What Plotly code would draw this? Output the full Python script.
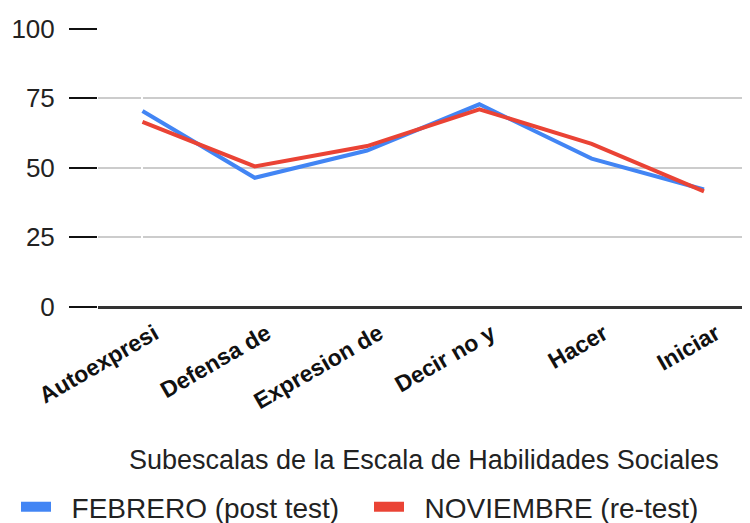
import plotly.graph_objects as go

# Subescalas (etiquetas tal como aparecen, recortadas)
categorias = ["Autoexpresi", "Defensa de", "Expresion de", "Decir no y", "Hacer", "Iniciar"]

# Puntuaciones
febrero = [70.4, 46.4, 56.2, 72.8, 53.3, 42.2]
noviembre = [66.5, 50.5, 57.8, 71.0, 58.6, 41.5]

y_ticks = [0, 25, 50, 75, 100]

azul = "#4285F4"
rojo = "#EA4335"

fig = go.Figure()

fig.add_trace(go.Scatter(
    x=list(range(len(categorias))), y=febrero,
    mode="lines", line=dict(color=azul, width=4),
    name="FEBRERO (post test)", showlegend=False
))
fig.add_trace(go.Scatter(
    x=list(range(len(categorias))), y=noviembre,
    mode="lines", line=dict(color=rojo, width=4),
    name="NOVIEMBRE (re-test)", showlegend=False
))

# Entradas de leyenda con trazo grueso (una leyenda por serie)
fig.add_trace(go.Scatter(x=[None], y=[None], mode="lines",
                         line=dict(color=azul, width=10),
                         name="\u00a0\u00a0FEBRERO (post test)", legend="legend"))
fig.add_trace(go.Scatter(x=[None], y=[None], mode="lines",
                         line=dict(color=rojo, width=10),
                         name="\u00a0\u00a0NOVIEMBRE (re-test)", legend="legend2"))

leyenda = dict(
    orientation="h",
    xref="container", yref="container",
    xanchor="left", yanchor="middle", y=0.031,
    font=dict(size=28, color="#222222"),
    itemwidth=30,
    bgcolor="rgba(0,0,0,0)",
)

# la pagina tiene 8 px de margen en body: figura algo mas pequena
fig.update_layout(
    width=742, height=515,
    margin=dict(l=90, r=0, t=20, b=216, autoexpand=False),
    plot_bgcolor="white",
    paper_bgcolor="white",
    font=dict(family="Liberation Sans, Arial, sans-serif", color="#222222"),
    legend=dict(leyenda, x=0.0108),
    legend2=dict(leyenda, x=0.4865),
)

fig.add_annotation(
    text="Subescalas de la Escala de Habilidades Sociales",
    xref="paper", yref="paper", x=0.5, y=-0.548,
    xanchor="center", yanchor="middle", showarrow=False,
    font=dict(size=27, color="#222222"),
)

fig.update_xaxes(
    automargin=False,
    range=[-0.396, 5.41],
    tickmode="array",
    tickvals=list(range(len(categorias))),
    ticktext=categorias,
    tickangle=-30,
    tickfont=dict(size=23, color="#111111",
                  family="Liberation Sans, Arial, sans-serif", weight="bold"),
    ticklabelstandoff=8,
    ticklabelshift=12,
    showgrid=False,
    showline=False,
    ticks="",
)

fig.update_yaxes(
    automargin=False,
    range=[0, 100.2],
    tickmode="array",
    tickvals=y_ticks,
    ticks="outside",
    ticklen=28,
    tickwidth=2,
    tickcolor="#111111",
    ticklabelstandoff=9,
    tickfont=dict(size=26, color="#222222"),
    showgrid=True,
    gridcolor="#CCCCCC",
    gridwidth=1.5,
    zeroline=True,
    zerolinecolor="#333333",
    zerolinewidth=2.5,
    showline=False,
)

fig.write_html("out.html")
